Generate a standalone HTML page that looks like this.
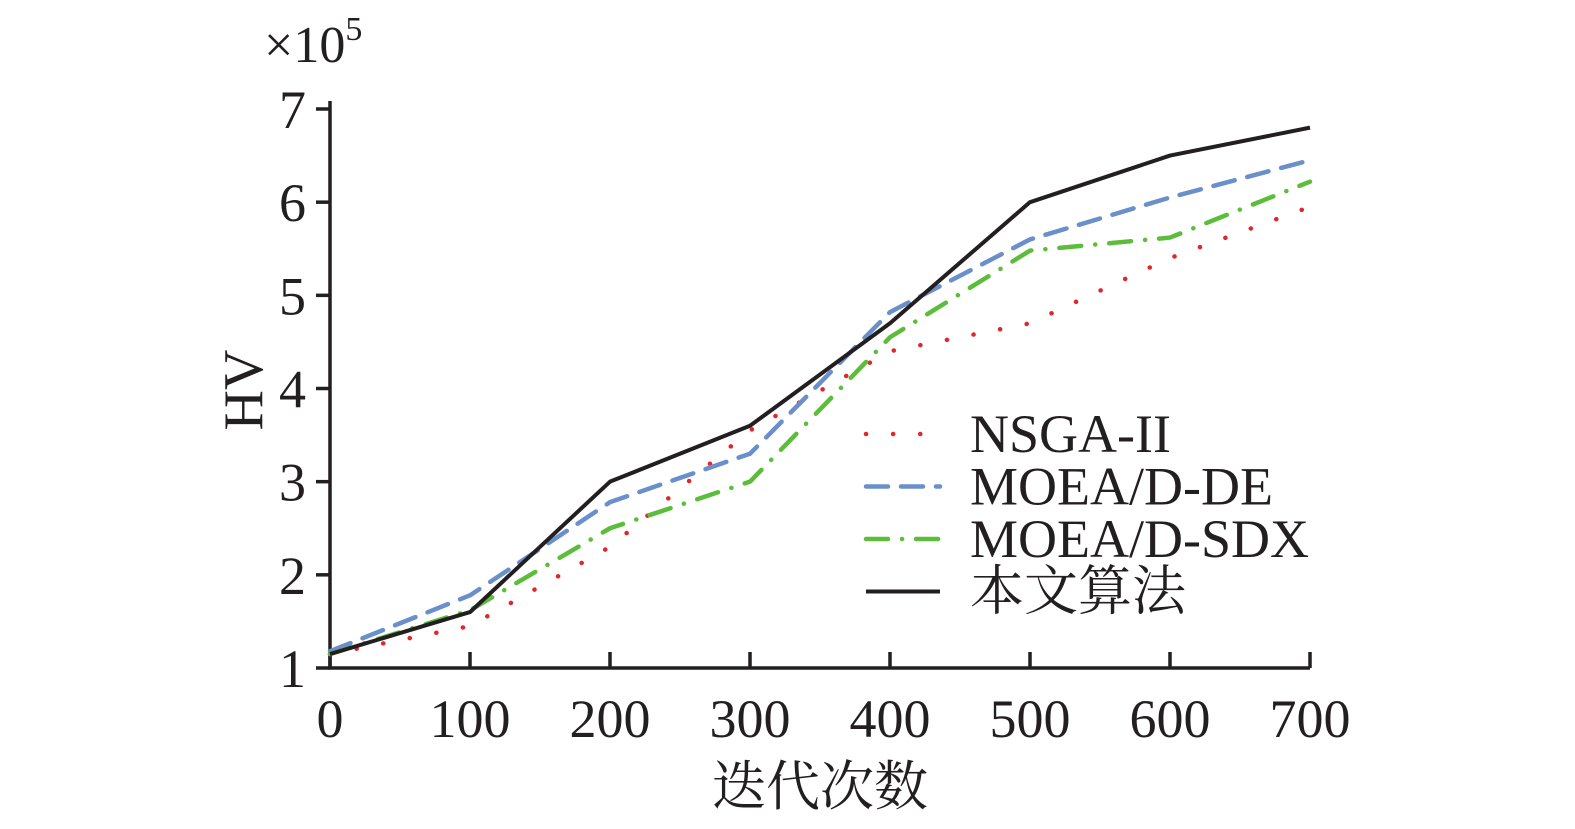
<!DOCTYPE html>
<html><head><meta charset="utf-8"><style>
body{margin:0;background:#fff;}
svg text{font-family:"Liberation Serif","Noto Serif CJK SC",serif;fill:#231f20;}
</style></head><body>
<svg id="chart" width="1575" height="824" xmlns="http://www.w3.org/2000/svg"></svg>
<script>
const xTicks=[0,100,200,300,400,500,600,700];
const yTicks=[1,2,3,4,5,6,7];
const iters=[0,100,200,300,400,500,600,700];
const nsga=[1.15,1.45,2.3,3.55,4.4,4.7,5.4,5.95];
const moeadDE=[1.18,1.78,2.78,3.3,4.82,5.6,6.05,6.45];
const moeadSDX=[1.15,1.62,2.5,3.0,4.55,5.48,5.62,6.22];
const ours=[1.15,1.6,3.0,3.6,4.7,6.0,6.5,6.8];
const seriesNames=["NSGA-II","MOEA/D-DE","MOEA/D-SDX","本文算法"];
const NS="http://www.w3.org/2000/svg";
const svg=document.getElementById('chart');
const X0=330,X1=1310,Y0=668,Y1=109;
const xs=v=>X0+(v-0)/(700-0)*(X1-X0);
const ys=v=>Y0-(v-1)/(7-1)*(Y0-Y1);
function mk(tag,attrs,parent){const e=document.createElementNS(NS,tag);for(const k in attrs)e.setAttribute(k,attrs[k]);(parent||svg).appendChild(e);return e;}
let ax=mk('path',{d:`M${X0},${Y1-8} V${Y0} H${X1}`,stroke:'#231f20','stroke-width':3.5,fill:'none'});


xTicks.forEach(t=>{
 const l=mk('line',{x1:xs(t),x2:xs(t),y1:Y0,y2:Y0-16,stroke:'#231f20','stroke-width':3.5});
 
 
 const tx=mk('text',{x:xs(t),y:Y0+69,'font-size':54,'text-anchor':'middle'});tx.textContent=t;
 
 
});
yTicks.forEach(t=>{
 const l=mk('line',{x1:X0-14,x2:X0,y1:ys(t),y2:ys(t),stroke:'#231f20','stroke-width':3.5});
 
 
 const tx=mk('text',{x:X0-24,y:ys(t)+19,'font-size':54,'text-anchor':'end'});tx.textContent=t;
 
 
});
const styles=[
 {c:'#e0262b',w:4.5,d:'0.1 27',cap:'round'},
 {c:'#6a8fcb',w:4.5,d:'22 13',cap:'round'},
 {c:'#5cbd3a',w:4.5,d:'22 14 0.1 14',cap:'round'},
 {c:'#231f20',w:4,d:'',cap:'butt'}];
const data=[nsga,moeadDE,moeadSDX,ours];
const snames=['nsga-ii-line','moead-de-line','moead-sdx-line','proposed-line'];
data.forEach((arr,i)=>{
 const s=styles[i];
 const p=mk('polyline',{points:arr.map((v,j)=>xs(iters[j])+','+ys(v)).join(' '),fill:'none',stroke:s.c,'stroke-width':s.w,'stroke-dasharray':s.d,'stroke-linecap':s.cap,'stroke-linejoin':'round'});
 
 
 const ly=434+i*52.5;
 const ll=mk('line',{x1:866,x2:940,y1:ly,y2:ly,stroke:s.c,'stroke-width':s.w,'stroke-dasharray':s.d,'stroke-linecap':s.cap});
 
 
 const lt=mk('text',{x:970,y:ly+18,'font-size':54});lt.textContent=seriesNames[i];
 
 
});
</script>
<div style="position:absolute;left:0;top:0;width:1575px;height:824px;pointer-events:none">
<svg width="1575" height="824" xmlns="http://www.w3.org/2000/svg">
<text x="264" y="62" font-size="52" style="font-family:'Liberation Serif',serif;fill:#231f20">×10<tspan font-size="34" dy="-22">5</tspan></text>
<text transform="translate(262,390) rotate(-90)" text-anchor="middle" font-size="56" style="font-family:'Liberation Serif',serif;fill:#231f20">HV</text>
<text x="820" y="805" text-anchor="middle" font-size="54" style="font-family:'Liberation Serif','Noto Serif CJK SC',serif;fill:#231f20">迭代次数</text>
</svg></div>
</body></html>
